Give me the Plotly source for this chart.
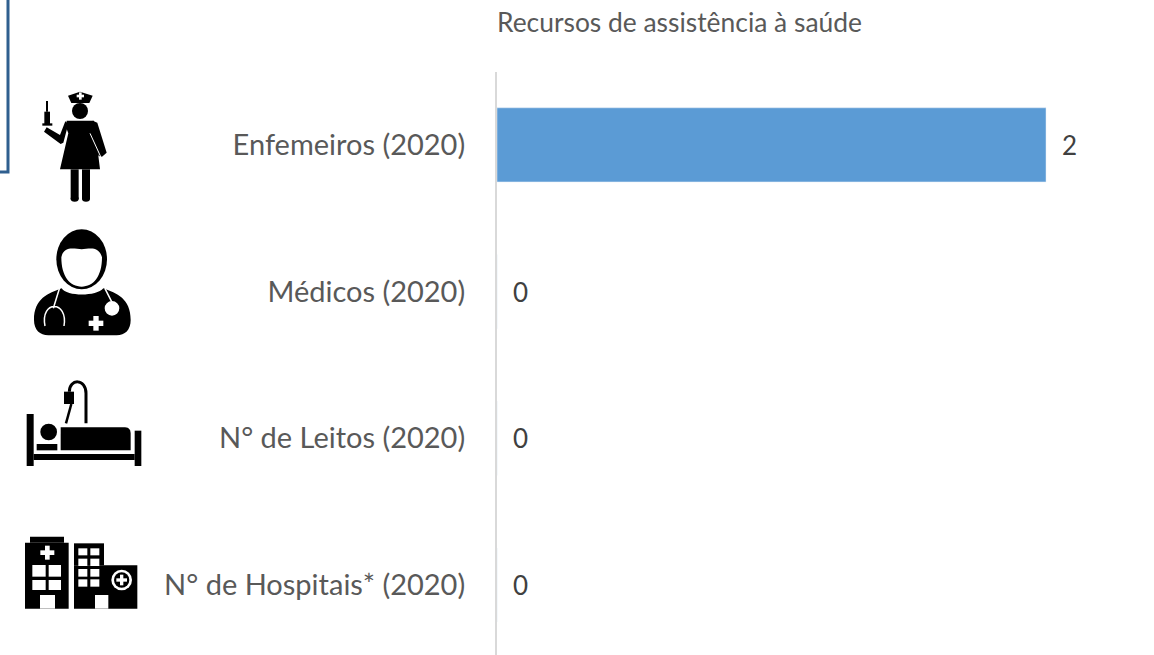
import plotly.graph_objects as go

categories = ["Enfemeiros (2020)", "Médicos (2020)", "N° de Leitos (2020)", "N° de Hospitais* (2020)"]
values = [2, 0, 0, 0]
title_text = "Recursos de assistência à saúde"

W, H = 1154, 655
FONT = "Lato, Carlito, sans-serif"
BLACK = "#000000"
WHITE = "#ffffff"

fig = go.Figure(go.Bar(
    y=categories, x=values, orientation="h", marker_color="#5b9bd5", width=0.505,
    hoverinfo="skip", cliponaxis=False,
))

for cat, val in zip(categories, values):
    fig.add_annotation(x=val, y=cat, text=str(val), showarrow=False, xanchor="left",
                       xshift=14, yshift=0, font=dict(size=26, color="#404040", family=FONT))

# --- decoration helpers: arguments are pixels in a zoomed (x3) view of the page ---
shapes = []
def X(v): return v / 3 / W
def Y(v, oy=0): return 1 - (v / 3 + oy) / H

def poly(points, fill=BLACK, oy=0, close=True, line=None, width=0):
    d = "M " + " L ".join(f"{X(a):.5f},{Y(b, oy):.5f}" for a, b in points) + (" Z" if close else "")
    shapes.append(dict(type="path", xref="paper", yref="paper", path=d,
                       fillcolor=fill if close else "rgba(0,0,0,0)",
                       line=dict(color=line or fill, width=width), layer="above"))

def curve(cmd, fill=None, line=BLACK, width=0, oy=0):
    out = []
    for tok in cmd:
        if isinstance(tok, str):
            out.append(tok)
        else:
            out.append(f"{X(tok[0]):.5f},{Y(tok[1], oy):.5f}")
    shapes.append(dict(type="path", xref="paper", yref="paper", path=" ".join(out),
                       fillcolor=fill or "rgba(0,0,0,0)",
                       line=dict(color=line, width=width), layer="above"))

def rect(x0, y0, x1, y1, fill=BLACK, oy=0):
    shapes.append(dict(type="rect", xref="paper", yref="paper", x0=X(x0), x1=X(x1),
                       y0=Y(y0, oy), y1=Y(y1, oy), fillcolor=fill, line=dict(width=0), layer="above"))

def ell(cx, cy, rx, ry=None, fill=BLACK, oy=0):
    ry = ry or rx
    shapes.append(dict(type="circle", xref="paper", yref="paper", x0=X(cx - rx), x1=X(cx + rx),
                       y0=Y(cy - ry, oy), y1=Y(cy + ry, oy), fillcolor=fill, line=dict(width=0), layer="above"))

def cross(cx, cy, s, t, fill=WHITE, oy=0):
    rect(cx - s, cy - t, cx + s, cy + t, fill, oy)
    rect(cx - t, cy - s, cx + t, cy + s, fill, oy)

# frame fragment top-left
poly([(24, -10), (24, 516), (-10, 516)], close=False, line="#2f5f8f", width=3)

# nurse
poly([(204, 287), (240, 275), (278, 287), (268, 309), (214, 309)])
cross(241, 288, 11, 4)
ell(240, 333, 24)
poly([(200, 362), (282, 362), (300, 508), (180, 508), (205, 400), (198, 382)])
poly([(205, 372), (190, 428), (182, 432), (132, 395), (140, 382), (180, 405), (196, 364)])
poly([(278, 362), (292, 368), (320, 458), (306, 470), (296, 468), (272, 395)])
poly([(270, 400), (303, 472)], close=False, line=WHITE, width=1)
rect(212, 508, 236, 598)
rect(246, 508, 270, 598)
ell(224, 596, 12, 9)
ell(258, 596, 12, 9)
rect(133, 335, 150, 372)
rect(138, 303, 144, 335)
rect(127, 370, 157, 377)

# doctor
ell(245, 778, 76, 90)
curve(["M", (184, 772), "C", (192, 735), (225, 748), (245, 748), "C", (265, 748), (295, 735), (306, 772),
       "C", (306, 830), (280, 860), (245, 860), "C", (210, 860), (184, 830), (184, 772), "Z"],
      fill=WHITE, line=WHITE, width=0)
curve(["M", (185, 865), "C", (200, 890), (290, 890), (310, 865), "C", (350, 880), (392, 895), (392, 960),
       "C", (392, 990), (375, 1006), (350, 1006), "L", (145, 1006), "C", (120, 1006), (102, 990), (102, 960),
       "C", (102, 895), (145, 880), (185, 865), "Z"], fill=BLACK, line=BLACK, width=0)
curve(["M", (178, 866), "L", (160, 925), "M", (135, 978), "C", (120, 900), (205, 900), (192, 978),
       "M", (315, 866), "L", (335, 905)], line=WHITE, width=1.5)
ell(336, 925, 22, fill=WHITE)
cross(288, 970, 22, 8)

# bed
oy = 360
rect(80, 162, 101, 318, oy=oy)
rect(404, 212, 424, 318, oy=oy)
rect(101, 282, 404, 300, oy=oy)
ell(146, 216, 25, oy=oy)
rect(110, 252, 172, 271, oy=oy)
curve(["M", (182, 202), "L", (375, 202), "C", (388, 202), (392, 212), (392, 222), "L", (392, 271),
       "L", (182, 271), "Z"], fill=BLACK, line=BLACK, width=0, oy=oy)
rect(192, 95, 222, 132, oy=oy)
curve(["M", (208, 95), "C", (208, 55), (258, 55), (258, 100), "L", (258, 190)], line=BLACK, width=3, oy=oy)
curve(["M", (214, 132), "L", (198, 190)], line=BLACK, width=2.5, oy=oy)

# hospital
rect(75, 548, 206, 746, oy=oy)
rect(90, 530, 192, 548, oy=oy)
cross(142, 578, 21, 7, oy=oy)
for x0, x1 in [(97, 137), (146, 183)]:
    for y0, y1 in [(615, 650), (660, 690)]:
        rect(x0, y0, x1, y1, WHITE, oy=oy)
rect(120, 705, 165, 746, WHITE, oy=oy)
rect(222, 550, 312, 616, oy=oy)
rect(222, 616, 412, 746, oy=oy)
for x0, x1 in [(235, 262), (271, 298)]:
    for y0, y1 in [(565, 586), (596, 618), (627, 650), (658, 680)]:
        rect(x0, y0, x1, y1, WHITE, oy=oy)
rect(285, 705, 325, 746, WHITE, oy=oy)
ell(365, 660, 31, fill=WHITE, oy=oy)
ell(365, 660, 23, fill=BLACK, oy=oy)
cross(365, 660, 16, 5, oy=oy)

fig.update_layout(
    width=W, height=H, margin=dict(l=0, r=0, t=0, b=0), autosize=False,
    paper_bgcolor="white", plot_bgcolor="white", showlegend=False,
    font=dict(family=FONT, color="#595959"),
    shapes=shapes,
    title=dict(text=title_text, x=497 / W, xanchor="left", xref="paper",
               y=1 - 23 / H, yanchor="middle", font=dict(size=26.4, color="#595959", family=FONT)),
    xaxis=dict(domain=[497 / W, 1], range=[0, 2 * 657 / 549], visible=False, fixedrange=True),
    yaxis=dict(domain=[0, 1 - 71.5 / H], autorange=False, range=[3.477, -0.5], type="category",
               categoryorder="array", categoryarray=categories,
               showline=True, linecolor="#d9d9d9", linewidth=2, showgrid=False, zeroline=False,
               ticks="outside", ticklen=24, tickcolor="rgba(0,0,0,0)",
               tickfont=dict(size=29, color="#595959", family=FONT), fixedrange=True),
)

fig.write_html("out.html", config=dict(displayModeBar=False),
               post_script="document.body.style.margin='0';document.documentElement.style.overflow='hidden';")
